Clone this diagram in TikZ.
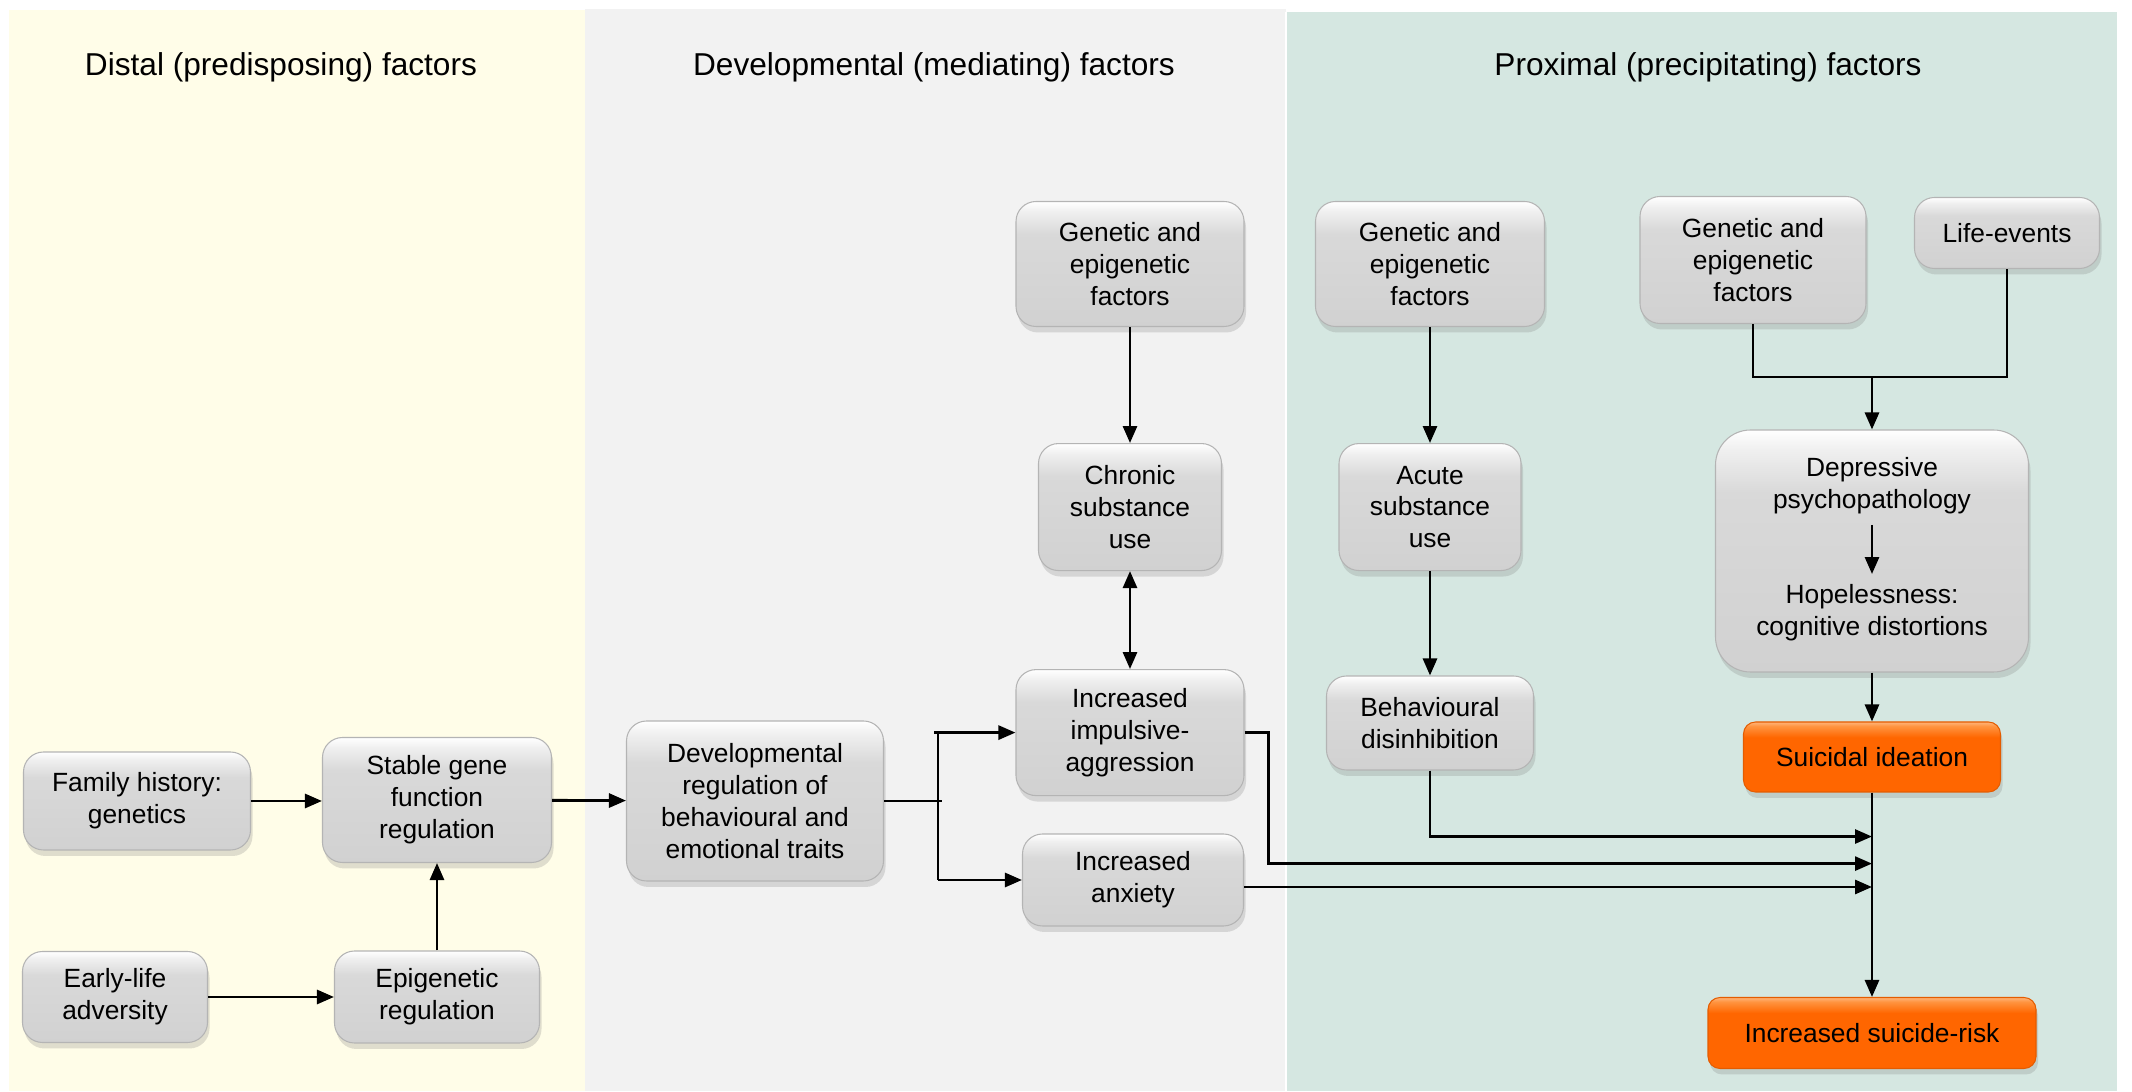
\documentclass[tikz,border=0pt]{standalone}
\usepackage{fontspec}
\setmainfont{Liberation Sans}
\usepackage{xcolor}
\definecolor{cDistal}{HTML}{FFFDE8}
\definecolor{cDevel}{HTML}{F2F2F2}
\definecolor{cProx}{HTML}{D5E7E1}
\definecolor{cBoxLine}{HTML}{B4B4B4}
\definecolor{cOrange}{HTML}{FF6600}
\definecolor{cOrangeDark}{HTML}{E45C00}
\definecolor{cOrangeLight}{HTML}{FF9440}
\usepackage{tikz}
\usetikzlibrary{positioning,arrows.meta,shadows,calc}
% bevelled fills: the box spans 25bp..75bp of the shading
\pgfdeclareverticalshading{bevel-grey}{100bp}{color(0bp)=(black!18); color(25bp)=(black!18);
  color(62bp)=(black!15); color(71bp)=(black!6); color(75bp)=(white); color(100bp)=(white)}
\pgfdeclareverticalshading{bevel-orange}{100bp}{color(0bp)=(cOrange); color(25bp)=(cOrange);
  color(64bp)=(cOrange); color(72bp)=(cOrangeLight); color(75bp)=(cOrangeLight!70!white); color(100bp)=(white)}
\tikzset{
  node-box/.style={shading=bevel-grey,draw=cBoxLine,line width=0.3pt,rounded corners=2mm,
    align=center,inner sep=1mm,
    drop shadow={shadow xshift=0.2mm,shadow yshift=-0.6mm,opacity=0.25}},
  node-alert/.style={shading=bevel-orange,draw=cOrangeDark,rounded corners=1.2mm},
  node-text/.style={align=center,inner sep=1mm},
  node-title/.style={font=\fontsize{9}{11}\selectfont},
  link/.style={line width=0.8pt},
  arrow/.style={-{Triangle[length=1.7mm,width=1.4mm]},line width=0.8pt},
  arrow-both/.style={{Triangle[length=1.7mm,width=1.4mm]}-{Triangle[length=1.7mm,width=1.4mm]},line width=0.8pt},
}

\begin{document}
\begin{tikzpicture}[font=\fontsize{7.5}{9.1}\selectfont]
  \useasboundingbox (0,0) rectangle (21.32,-10.92);
  % panels
  \fill[cDistal] (0.09,-0.10) rectangle (5.85,-10.91);
  \fill[cDevel]  (5.85,-0.09) rectangle (12.86,-10.91);
  \fill[cProx]   (12.86,-0.12) rectangle (21.17,-10.91);
  \draw[white,line width=0.8pt] (12.86,-0.12) -- (12.86,-10.91);

  \node[node-title] (t-distal) at (2.81,-0.67) {Distal (predisposing) factors};
  \node[node-title] (t-devel)  at (9.34,-0.67) {Developmental (mediating) factors};
  \node[node-title] (t-prox)   at (17.08,-0.67) {Proximal (precipitating) factors};

  % distal column
  \node[node-box,minimum width=22.7mm,minimum height=9.8mm] (fam) at (1.37,-8.01) {Family history:\\genetics};
  \node[node-box,minimum width=22.9mm,minimum height=12.5mm] (stable) at (4.37,-8.00) {Stable gene\\function\\regulation};
  \node[node-box,minimum width=18.5mm,minimum height=9.1mm] (early) at (1.15,-9.97) {Early-life\\adversity};
  \node[node-box,minimum width=20.5mm,minimum height=9.2mm] (epi) at (4.37,-9.97) {Epigenetic\\regulation};

  % developmental column
  \node[node-box,minimum width=25.7mm,minimum height=16mm] (devreg) at (7.55,-8.01) {Developmental\\regulation of\\behavioural and\\emotional traits};
  \node[node-box,minimum width=22.8mm,minimum height=12.5mm] (gen-a) at (11.30,-2.64) {Genetic and\\epigenetic\\factors};
  \node[node-box,minimum width=18.3mm,minimum height=12.7mm,below=11.6mm of gen-a] (chronic) {Chronic\\substance\\use};
  \node[node-box,minimum width=22.8mm,minimum height=12.6mm,below=9.8mm of chronic] (impuls) {Increased\\impulsive-\\aggression};
  \node[node-box,minimum width=22.1mm,minimum height=9.2mm] (anx) at (11.33,-8.80) {Increased\\anxiety};

  % proximal column
  \node[node-box,minimum width=22.9mm,minimum height=12.5mm] (gen-b) at (14.30,-2.64) {Genetic and\\epigenetic\\factors};
  \node[node-box,minimum width=18.2mm,minimum height=12.7mm,below=11.6mm of gen-b] (acute) {Acute\\substance\\use};
  \node[node-box,minimum width=20.7mm,minimum height=9.4mm] (behav) at (14.30,-7.23) {Behavioural\\disinhibition};
  \node[node-box,minimum width=22.6mm,minimum height=12.7mm] (gen-c) at (17.53,-2.60) {Genetic and\\epigenetic\\factors};
  \node[node-box,minimum width=18.5mm,minimum height=7.1mm] (life) at (20.07,-2.33) {Life-events};
  \node[node-box,rounded corners=3.5mm,minimum width=31.3mm,minimum height=24.2mm] (dep) at (18.72,-5.51) {};
  \node[node-text] (dep-top) at (18.72,-4.86) {Depressive\\psychopathology};
  \node[node-text] (dep-bot) at (18.72,-6.13) {Hopelessness:\\cognitive distortions};
  \node[node-box,node-alert,minimum width=25.7mm,minimum height=7mm] (ideation) at (18.72,-7.57) {Suicidal ideation};
  \node[node-box,node-alert,minimum width=32.8mm,minimum height=7.1mm] (risk) at (18.72,-10.33) {Increased suicide-risk};

  \coordinate (split) at ($(devreg.east)+(0.54,0)$);
  \coordinate (join) at (18.72,-3.77);
  \coordinate (bus-behav) at ($(behav.south)+(0,-0.66)$);
  \coordinate (bend-imp) at ($(impuls.east)+(0.24,-1.31)$);

  \draw[arrow] (fam.east) -- (fam.east -| stable.west);
  \draw[arrow] (early.east) -- (early.east -| epi.west);
  \draw[arrow] (epi) -- (stable);
  \draw[arrow] (stable) -- (devreg);
  \draw[link] (devreg.east) -- ++(0.58,0);
  \draw[link] (split |- impuls.west) -- (split |- anx.west);
  \draw[arrow] ([xshift=-0.4mm]split |- impuls.west) -- (impuls.west);
  \draw[arrow] (split |- anx.west) -- (anx.west);
  \draw[arrow] (gen-a) -- (chronic);
  \draw[arrow-both] (chronic) -- (impuls);
  \draw[arrow] (gen-b) -- (acute);
  \draw[arrow] (acute) -- (behav);
  \draw[link] (gen-c.south) |- (join) -| (life.south);
  \draw[arrow] (join) -- (dep.north);
  \draw[arrow] (dep-top) -- (dep-bot);
  \draw[arrow] (dep) -- (ideation);
  \draw[arrow] (ideation) -- (risk);
  \draw[arrow] (behav.south) -- (bus-behav) -- (bus-behav -| risk.north);
  \draw[arrow] (impuls.east) -| (bend-imp) -- (bend-imp -| risk.north);
  \draw[arrow] ([yshift=-0.7mm]anx.east) -- ([yshift=-0.7mm]anx.east -| risk.north);
\end{tikzpicture}
\end{document}
